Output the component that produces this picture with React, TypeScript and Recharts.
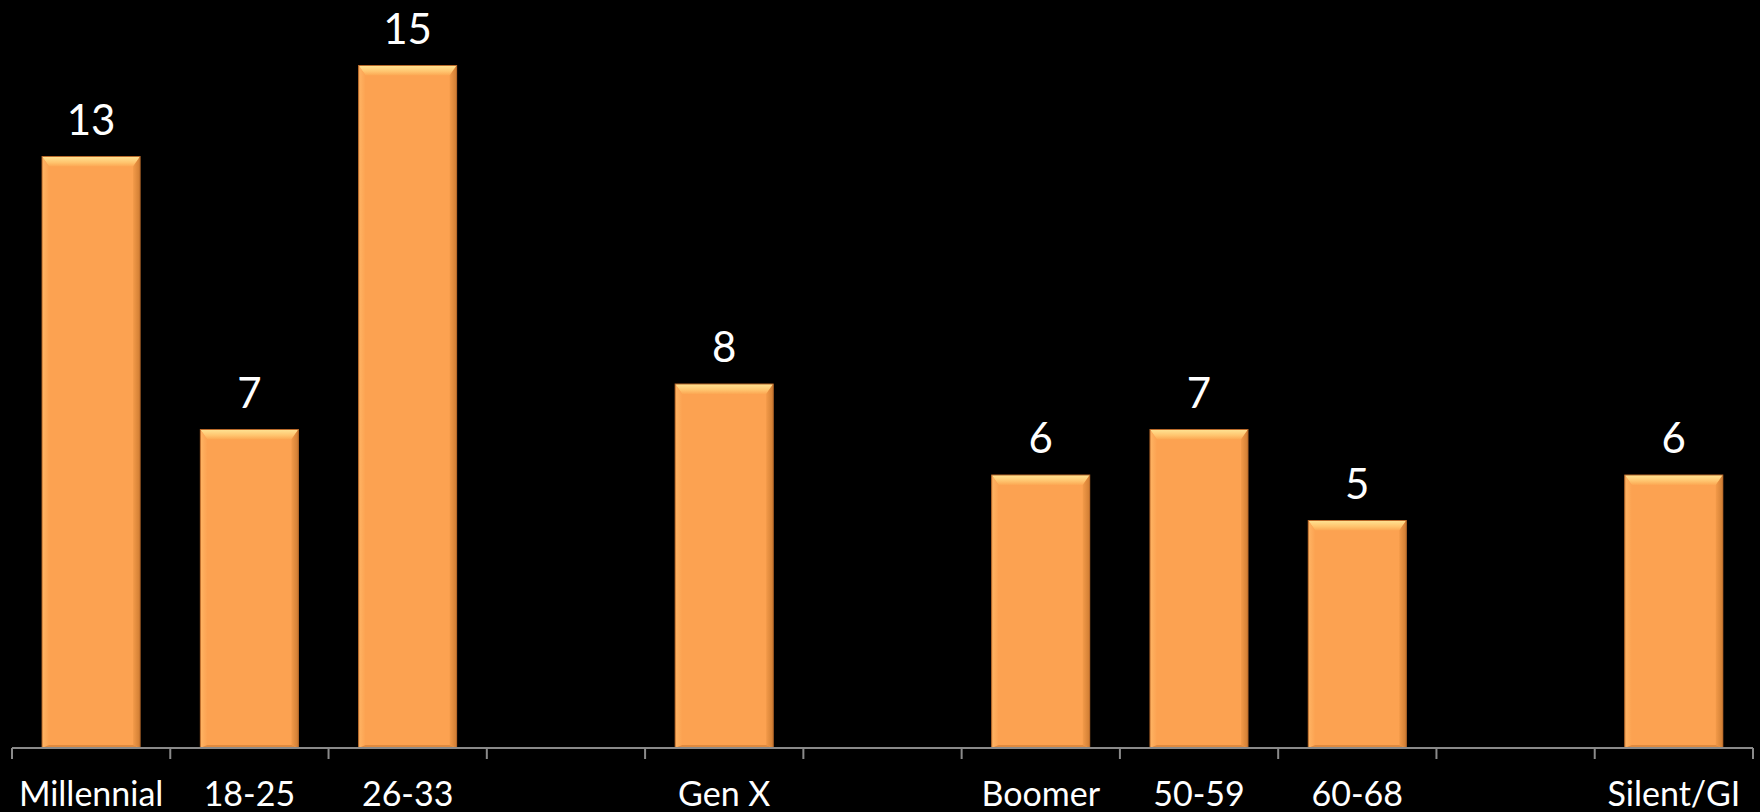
import React from 'react'
import { BarChart, Bar, XAxis, YAxis, LabelList } from 'recharts'

const categories = ['Millennial', '18-25', '26-33', '', 'Gen X', '', 'Boomer', '50-59', '60-68', '', 'Silent/GI']
const values: (number | null)[] = [13, 7, 15, null, 8, null, 6, 7, 5, null, 6]

const rows = categories.map((name, i) => ({ id: i, name, value: values[i] }))

const FONT = 'Lato, "Open Sans", sans-serif'
const AXIS_GREY = '#8a8a8a'

// bevelled orange bar, like the PowerPoint preset
function BevelBar(props: any) {
  const { x, y, width, height } = props
  if (!height || height <= 0) return null
  const b = 10
  const s = 7
  return (
    <g>
      <rect x={x} y={y} width={width} height={height} fill="#FCA251" />
      <polygon
        points={`${x},${y} ${x + width},${y} ${x + width - s},${y + b} ${x + s},${y + b}`}
        fill="url(#bevelTop)"
      />
      <polygon
        points={`${x},${y} ${x + s},${y + b} ${x + s},${y + height - 3} ${x},${y + height}`}
        fill="url(#bevelLeft)"
      />
      <polygon
        points={`${x + width},${y} ${x + width - s},${y + b} ${x + width - s},${y + height - 3} ${x + width},${y + height}`}
        fill="url(#bevelRight)"
      />
      <polygon
        points={`${x},${y + height} ${x + s},${y + height - 3} ${x + width - s},${y + height - 3} ${x + width},${y + height}`}
        fill="#E08A3E"
      />
      <rect x={x} y={y} width={width} height={height} fill="none" stroke="#B8692A" strokeWidth={1} />
    </g>
  )
}

function CategoryTick(props: any) {
  const { x, y, payload, index, visibleTicksCount } = props
  const half = payload?.offset ?? 79
  const label = categories[payload.value] ?? ''
  const isLast = index === (visibleTicksCount ?? categories.length) - 1
  return (
    <g>
      <line x1={x - half} y1={y - 11} x2={x - half} y2={y} stroke={AXIS_GREY} strokeWidth={2} />
      {isLast && (
        <line x1={x + half} y1={y - 11} x2={x + half} y2={y} stroke={AXIS_GREY} strokeWidth={2} />
      )}
      <text x={x} y={y + 47} textAnchor="middle" fill="#ffffff" fontSize={34} fontFamily={FONT}>
        {label}
      </text>
    </g>
  )
}

export default function App() {
  return (
    <div style={{ position: 'fixed', left: 0, top: 0, width: 1760, height: 812, background: '#000' }}>
      <BarChart
        width={1760}
        height={812}
        data={rows}
        margin={{ top: 20, right: 7, left: 12, bottom: 0 }}
        barCategoryGap="19%"
      >
        <defs>
          <linearGradient id="bevelTop" x1="0" y1="0" x2="0" y2="1">
            <stop offset="0%" stopColor="#FFE494" />
            <stop offset="60%" stopColor="#FFC46E" />
            <stop offset="100%" stopColor="#FCA753" />
          </linearGradient>
          <linearGradient id="bevelLeft" x1="0" y1="0" x2="1" y2="0">
            <stop offset="0%" stopColor="#FFB565" />
            <stop offset="100%" stopColor="#FCA251" />
          </linearGradient>
          <linearGradient id="bevelRight" x1="0" y1="0" x2="1" y2="0">
            <stop offset="0%" stopColor="#F39A49" />
            <stop offset="100%" stopColor="#CF7D33" />
          </linearGradient>
        </defs>
        <XAxis
          dataKey="id"
          type="category"
          height={64}
          tickLine={false}
          tickSize={11}
          tickMargin={0}
          axisLine={{ stroke: AXIS_GREY, strokeWidth: 2 }}
          tick={<CategoryTick />}
          interval={0}
        />
        <YAxis hide domain={[0, 16]} />
        <Bar dataKey="value" shape={<BevelBar />} isAnimationActive={false}>
          <LabelList
            dataKey="value"
            position="top"
            offset={22}
            fill="#ffffff"
            fontSize={42}
            fontFamily={FONT}
            formatter={(v: any) => (v == null ? '' : v)}
          />
        </Bar>
      </BarChart>
    </div>
  )
}
